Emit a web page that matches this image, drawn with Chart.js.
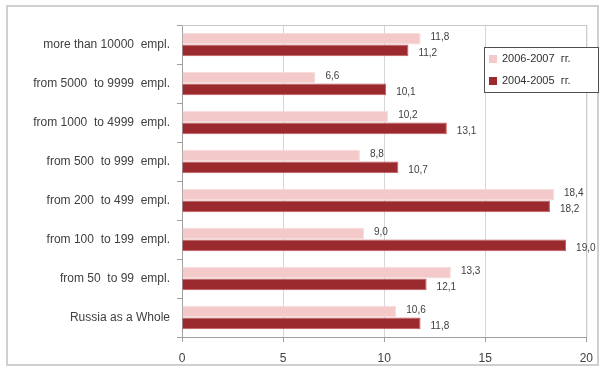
<!DOCTYPE html>
<html>
<head>
<meta charset="utf-8">
<script src="https://cdn.jsdelivr.net/npm/chart.js@4/dist/chart.umd.min.js"></script>
<style>
  html, body { margin: 0; padding: 0; background: #fff; }
  #wrap { position: relative; width: 602px; height: 368px; }
  #frame { position: absolute; left: 6px; top: 5px; width: 593px; height: 361px;
           border: 2px solid #d0d0d0; box-sizing: border-box; }
  canvas { position: absolute; left: 0; top: 0; }
</style>
</head>
<body>
<div id="wrap">
  <div id="frame"></div>
  <canvas id="c" width="602" height="368"></canvas>
</div>
<script>
// Share of companies by size group, two survey periods
const categories = [
  'more than 10000  empl.',
  'from 5000  to 9999  empl.',
  'from 1000  to 4999  empl.',
  'from 500  to 999  empl.',
  'from 200  to 499  empl.',
  'from 100  to 199  empl.',
  'from 50  to 99  empl.',
  'Russia as a Whole'
];
const period2006 = [11.8, 6.6, 10.2, 8.8, 18.4, 9.0, 13.3, 10.6];
const period2004 = [11.2, 10.1, 13.1, 10.7, 18.2, 19.0, 12.1, 11.8];
const seriesNames = ['2006-2007  гг.', '2004-2005  гг.'];
const xTicks = [0, 5, 10, 15, 20];

const LIGHT = '#f3c9ca';
const DARK = '#9a2a2e';
const FONT = '"Liberation Sans", Arial, sans-serif';

const fmt = v => v.toFixed(1).replace('.', ',');

// value labels to the right of each bar
const valueLabels = {
  id: 'valueLabels',
  afterDatasetsDraw(chart) {
    const ctx = chart.ctx;
    ctx.save();
    ctx.font = '10px ' + FONT;
    ctx.fillStyle = '#404040';
    ctx.textAlign = 'left';
    ctx.textBaseline = 'middle';
    chart.data.datasets.forEach((ds, di) => {
      chart.getDatasetMeta(di).data.forEach((bar, i) => {
        const dy = di === 0 ? -1 : 3;
        ctx.fillText(fmt(ds.data[i]), bar.x + 10, bar.y + dy);
      });
    });
    ctx.restore();
  }
};

// top and right edges of the plot area
const plotFrame = {
  id: 'plotFrame',
  beforeDatasetsDraw(chart) {
    const a = chart.chartArea, ctx = chart.ctx;
    ctx.save();
    ctx.strokeStyle = '#c8c8c8';
    ctx.lineWidth = 1;
    ctx.beginPath();
    ctx.moveTo(a.left, a.top + 0.5);
    ctx.lineTo(a.right + 0.5, a.top + 0.5);
    ctx.lineTo(a.right + 0.5, a.bottom);
    ctx.stroke();
    ctx.restore();
  }
};

// boxed legend in the upper right
const boxLegend = {
  id: 'boxLegend',
  afterDraw(chart) {
    const ctx = chart.ctx;
    const x = 484, y = 47, w = 114, h = 45;
    ctx.save();
    ctx.fillStyle = '#ffffff';
    ctx.fillRect(x, y, w, h);
    ctx.strokeStyle = '#505050';
    ctx.lineWidth = 1;
    ctx.strokeRect(x + 0.5, y + 0.5, w, h);
    ctx.font = '11px ' + FONT;
    ctx.textBaseline = 'middle';
    ctx.textAlign = 'left';
    const cols = [LIGHT, DARK];
    seriesNames.forEach((name, i) => {
      const cy = y + 12 + i * 22;
      ctx.fillStyle = cols[i];
      ctx.fillRect(x + 5, cy - 4, 8, 8);
      ctx.fillStyle = '#303030';
      ctx.fillText(name, x + 18, cy);
    });
    ctx.restore();
  }
};

new Chart(document.getElementById('c'), {
  type: 'bar',
  data: {
    labels: categories,
    datasets: [
      { label: seriesNames[0], data: period2006, backgroundColor: LIGHT,
        borderColor: '#f7dcdc', borderWidth: 1 },
      { label: seriesNames[1], data: period2004, backgroundColor: DARK,
        borderColor: '#c5585b', borderWidth: 1 }
    ]
  },
  options: {
    indexAxis: 'y',
    responsive: false,
    animation: false,
    layout: { padding: { top: 25, right: 10, bottom: 0, left: 0 } },
    categoryPercentage: 0.6,
    barPercentage: 1.0,
    plugins: { legend: { display: false }, tooltip: { enabled: false } },
    scales: {
      x: {
        min: 0, max: 20,
        afterFit(s) { s.height = 31; },
        afterBuildTicks(s) { s.ticks = xTicks.map(v => ({ value: v })); },
        grid: { color: '#d6d6d6', tickColor: '#a0a0a0', tickLength: 5 },
        border: { color: '#a0a0a0' },
        ticks: { font: { family: FONT, size: 12 }, color: '#404040', padding: 9 }
      },
      y: {
        afterFit(s) { s.width = 182; },
        grid: { drawOnChartArea: false, tickColor: '#a0a0a0', tickLength: 5 },
        border: { color: '#a0a0a0' },
        ticks: { font: { family: FONT, size: 12 }, color: '#404040', padding: 7 }
      }
    }
  },
  plugins: [plotFrame, valueLabels, boxLegend]
});
</script>
</body>
</html>
